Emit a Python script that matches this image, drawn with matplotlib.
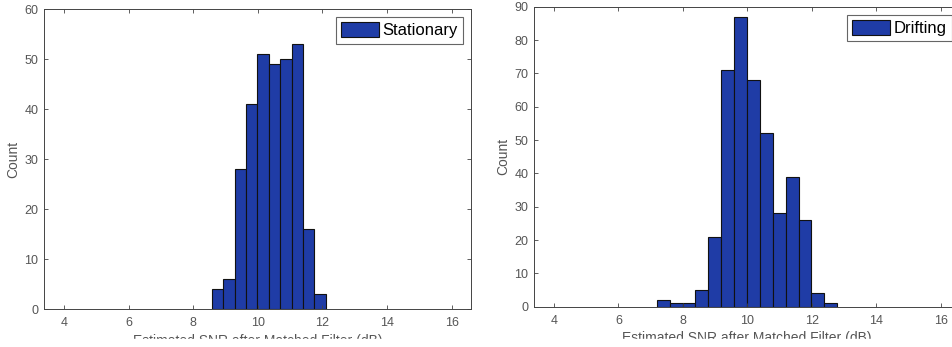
import numpy as np
import matplotlib
matplotlib.use("Agg")
import matplotlib.pyplot as plt
from matplotlib.patches import Rectangle

plt.rcParams.update({
    "font.family": ["Liberation Sans", "DejaVu Sans"],
    "xtick.direction": "in",
    "ytick.direction": "in",
    "xtick.top": True,
    "ytick.right": True,
})

# ------------------ DATA ------------------
stat_start = 8.58
stat_width = 0.352
stat_counts = [4, 6, 28, 41, 51, 49, 50, 53, 16, 3]

drift_start = 7.19
drift_width = 0.40
drift_counts = [2, 1, 1, 5, 21, 71, 87, 68, 52, 28, 39, 26, 4, 1]

xticks = [4, 6, 8, 10, 12, 14, 16]
xlim = (3.38, 16.6)
xlabel = "Estimated SNR after Matched Filter (dB)"

bar_color = "#1f3ca6"
txt_gray = "#555555"

W, H = 953, 347
fig = plt.figure(figsize=(W / 100, H / 100), dpi=100)


def panel(rect, start, width, counts, ymax, label):
    ax = fig.add_axes(rect)
    edges = start + width * np.arange(len(counts) + 1)
    centers = (edges[:-1] + edges[1:]) / 2
    ax.hist(centers, bins=edges, weights=counts, color=bar_color,
            edgecolor="#111111", linewidth=0.8, label=label)
    ax.set_xlim(*xlim)
    ax.set_ylim(0, ymax)
    ax.set_xticks(xticks)
    ax.set_yticks(np.arange(0, ymax + 1, 10))
    ax.tick_params(labelsize=9, labelcolor=txt_gray, color="#444444",
                   length=3, width=0.6)
    ax.tick_params(axis="x", pad=6)
    ax.tick_params(axis="y", pad=4)
    for s in ax.spines.values():
        s.set_color("#444444")
        s.set_linewidth(0.7)
    ax.set_ylabel("Count", fontsize=10, color=txt_gray, labelpad=3)
    ax.set_xlabel(xlabel, fontsize=10, color=txt_gray, labelpad=3)
    leg = ax.legend(loc="upper right", fontsize=12, fancybox=False,
                    handlelength=2.3, handleheight=1.0, handletextpad=0.2,
                    borderpad=0.3, borderaxespad=0.5, framealpha=1)
    leg.get_frame().set_edgecolor("#666666")
    leg.get_frame().set_linewidth(0.8)
    return ax


panel([44 / W, (H - 309) / H, 427 / W, 300 / H],
      stat_start, stat_width, stat_counts, 60, "Stationary")
panel([534 / W, (H - 306.7) / H, 426 / W, 300 / H],
      drift_start, drift_width, drift_counts, 90, "Drifting")

# the scan cuts the axis labels off near the bottom edge
fig.patches.append(Rectangle((0, 0), 1, 8 / H, transform=fig.transFigure,
                             color="white", zorder=10))

fig.savefig("out.png", dpi=100)
